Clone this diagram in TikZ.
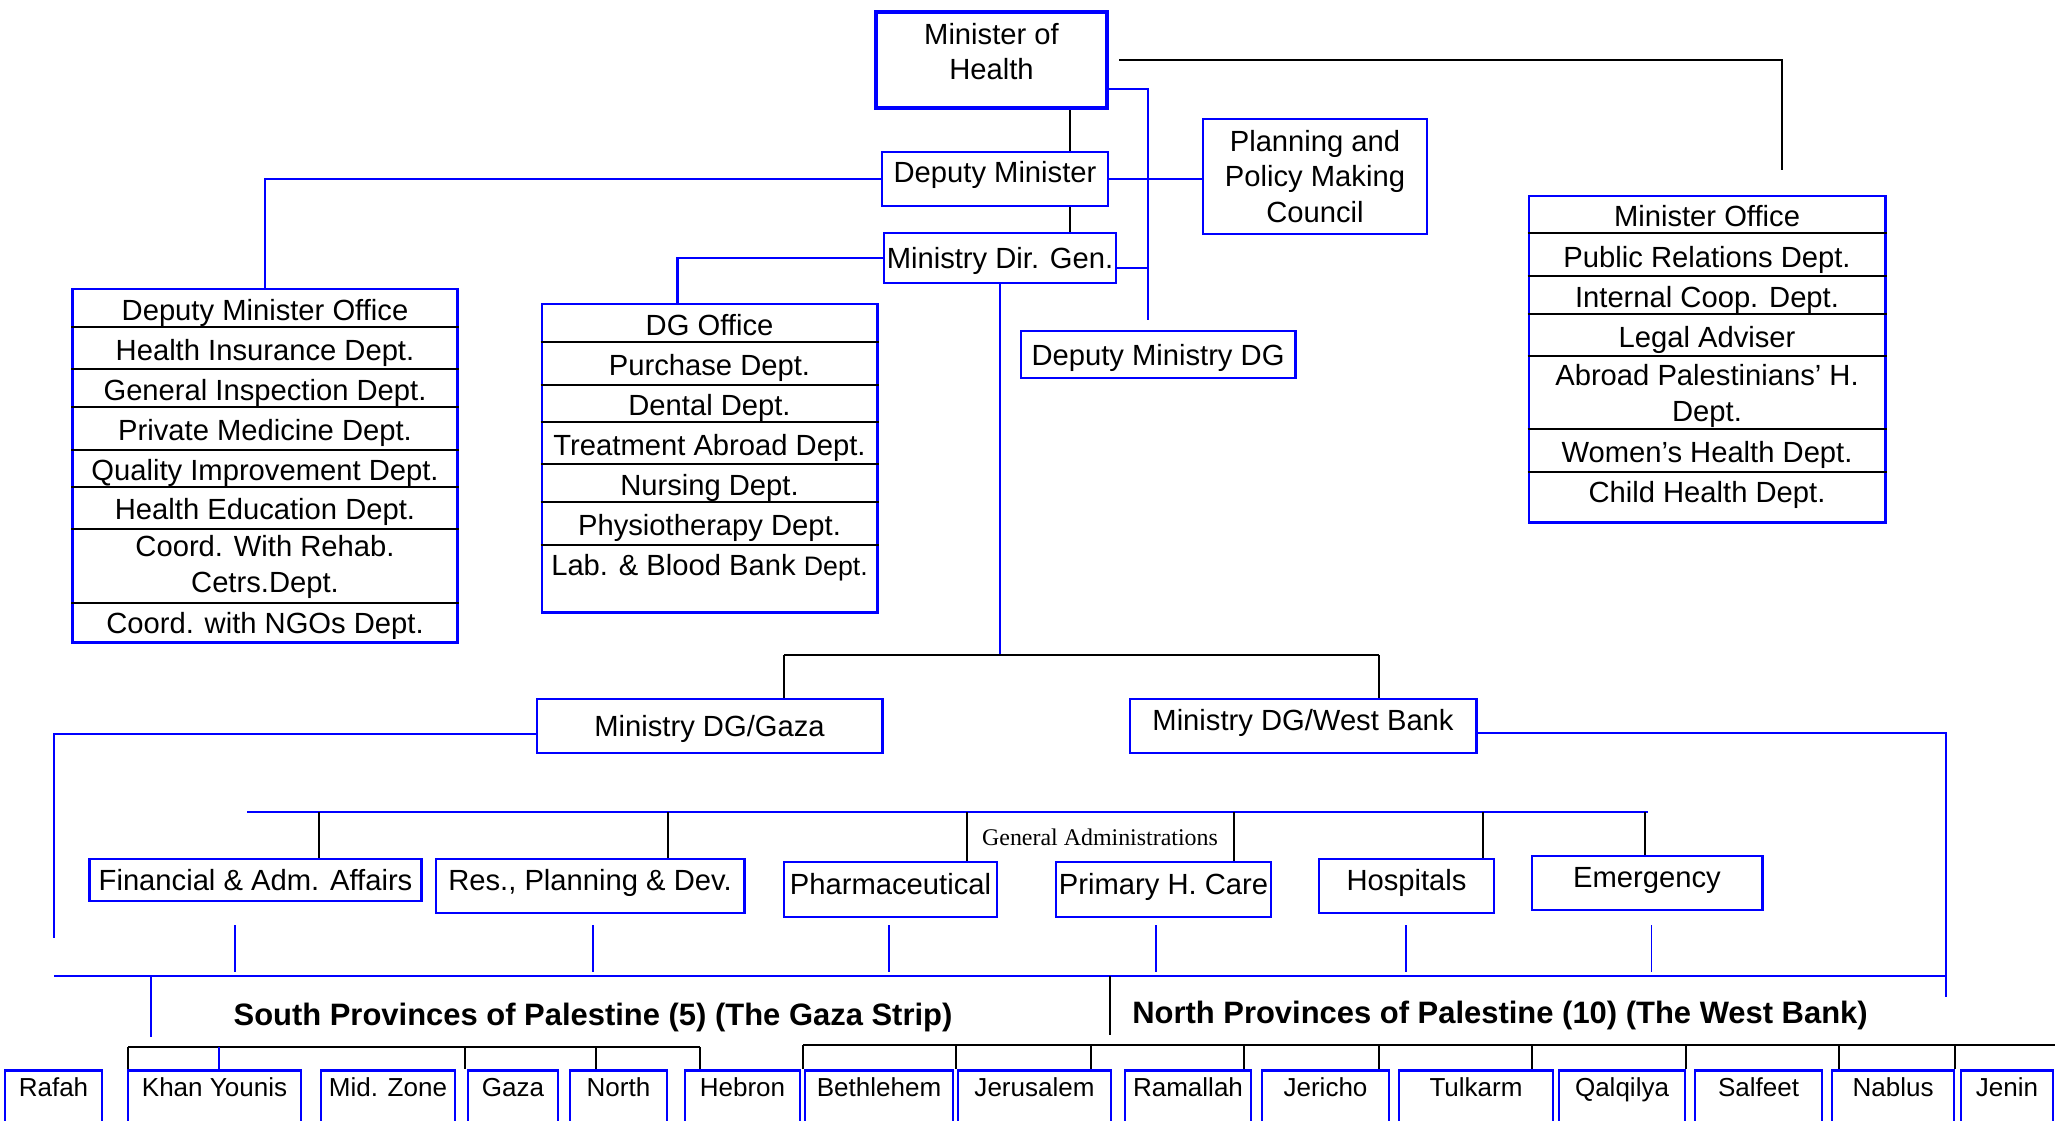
\documentclass[tikz,border=0pt]{standalone}
\usepackage{fontspec}
\setmainfont{Liberation Sans}
\newfontfamily\admfont{Liberation Serif}
\usetikzlibrary{calc}

\begin{document}
\begin{tikzpicture}[x=0.01cm,y=-0.01cm,
        box/.style={draw=blue,line width=0.8pt,align=center,inner sep=0pt,font=\fontsize{8.3}{10}\selectfont},
        one/.style={box,text height=6pt,text depth=0pt},
        up/.style={text depth=3.4pt},
        item/.style={inner sep=0pt,align=center,text height=6pt,text depth=0pt,font=\fontsize{8.3}{10}\selectfont},
        itemtwo/.style={inner sep=0pt,align=center,font=\fontsize{8.3}{10}\selectfont},
        prov/.style={draw=blue,line width=0.8pt,anchor=north,inner sep=0pt,text height=7.4pt,text depth=13.1pt,font=\fontsize{7.4}{9}\selectfont},
        title/.style={inner sep=0pt,font=\bfseries\fontsize{8.8}{10}\selectfont},
        link/.style={black,line width=0.6pt},
        blink/.style={blue,line width=0.6pt},
        tick/.style={blue,line width=0.3pt}]
    \useasboundingbox (0,0) rectangle (2055,1120);
    \clip (0,0) rectangle (2055,1120);

    \node[box,line width=1.3pt,text depth=5.1pt,minimum width=2.31cm,minimum height=0.96cm] (minister) at (991.5,60) {Minister of\\Health};
    \node[one,text depth=4pt,minimum width=2.26cm,minimum height=0.54cm] (depmin) at (995,179) {Deputy Minister};
    \node[box,minimum width=2.24cm,minimum height=1.15cm] (council) at (1315,176.5) {Planning and\\Policy Making\\Council};
    \node[one,minimum width=2.32cm,minimum height=0.50cm] (dirgen) at (1000,258) {Ministry Dir. Gen.};
    \node[one,minimum width=2.74cm,minimum height=0.47cm] (depdg) at (1158,354.5) {Deputy Ministry DG};

    \node[box,minimum width=3.84cm,minimum height=3.53cm] (dmo) at (265,465.5) {};
    \foreach \y in {327,369,407,450,487,529,603}
        \draw[link] (dmo.west |- 0,\y) -- (dmo.east |- 0,\y);
    \foreach \y/\txt [count=\idx] in {310/Deputy Minister Office,350/Health Insurance Dept.,390/General Inspection Dept.,430/Private Medicine Dept.,470/Quality Improvement Dept.,509/Health Education Dept.}
        \node[item] (dmo\idx) at (dmo.north |- 0,\y) {\txt};
    \node[itemtwo] (dmo7) at (dmo.north |- 0,567) {Coord. With Rehab.\\Cetrs.Dept.};
    \node[item] (dmo8) at (dmo.north |- 0,623) {Coord. with NGOs Dept.};

    \node[box,minimum width=3.35cm,minimum height=3.08cm] (dgo) at (709.5,458) {};
    \foreach \y in {342,385,422,464,502,545}
        \draw[link] (dgo.west |- 0,\y) -- (dgo.east |- 0,\y);
    \foreach \y/\txt [count=\idx] in {325/DG Office,365/Purchase Dept.,405/Dental Dept.,445/Treatment Abroad Dept.,485/Nursing Dept.,525/Physiotherapy Dept.}
        \node[item] (dgo\idx) at (dgo.north |- 0,\y) {\txt};
    \node[item] (dgo7) at (dgo.north |- 0,565) {Lab. \& Blood Bank {\fontsize{7.6}{9}\selectfont Dept.}};

    \node[box,minimum width=3.56cm,minimum height=3.26cm] (mo) at (1707,359) {};
    \foreach \y in {233,276,314,356,429,472}
        \draw[link] (mo.west |- 0,\y) -- (mo.east |- 0,\y);
    \foreach \y/\txt [count=\idx] in {216/Minister Office,257/Public Relations Dept.,297/Internal Coop. Dept.,337/Legal Adviser}
        \node[item] (mo\idx) at (mo.north |- 0,\y) {\txt};
    \node[itemtwo] (mo5) at (mo.north |- 0,396) {Abroad Palestinians’ H.\\Dept.};
    \node[item] (mo6) at (mo.north |- 0,452) {Women’s Health Dept.};
    \node[item] (mo7) at (mo.north |- 0,492) {Child Health Dept.};

    \coordinate (spine) at (1070,0);
    \draw[link] (minister.south -| spine) -- (depmin.north -| spine);
    \draw[link] (depmin.south -| spine) -- (dirgen.north -| spine);
    \coordinate (rail) at (1148,320);
    \draw[blink] (minister.east |- 0,89) -- (rail |- 0,89) -- (rail);
    \draw[blink] (depmin.east) -- (depmin.east -| council.west);
    \draw[blink] (dirgen.east |- 0,268) -- (rail |- 0,268);
    \draw[blink] (depmin.west) -| (dmo.north);
    \draw[blink] (dirgen.west) -| ([xshift=-0.32cm]dgo.north);
    \coordinate (motop) at (1782,170);
    \draw[link] ([xshift=0.1cm]minister.east) -- (motop |- minister.east) -- (motop);

    \node[one,minimum width=3.45cm,minimum height=0.54cm] (gaza) at (709.5,726) {Ministry DG/Gaza};
    \node[one,up,minimum width=3.46cm,minimum height=0.54cm] (wb) at (1303,726) {Ministry DG/West Bank};
    \coordinate (gzj) at (784,655);
    \coordinate (wbj) at (1379,655);
    \draw[blink] (dirgen.south) -- (dirgen.south |- gzj);
    \draw[link] (gzj) -- (wbj);
    \draw[link] (gzj) -- (gzj |- gaza.north);
    \draw[link] (wbj) -- (wbj |- wb.north);

    \node[one,minimum width=3.31cm,minimum height=0.42cm] (fin) at (255.5,880) {Financial \& Adm. Affairs};
    \node[one,up,minimum width=3.08cm,minimum height=0.54cm] (res) at (590,886) {Res., Planning \& Dev.};
    \node[one,up,minimum width=2.13cm,minimum height=0.55cm] (pharm) at (890.5,889.5) {Pharmaceutical};
    \node[one,up,minimum width=2.15cm,minimum height=0.55cm] (phc) at (1163.5,889.5) {Primary H. Care};
    \node[one,up,minimum width=1.75cm,minimum height=0.54cm] (hosp) at (1406.5,886) {Hospitals};
    \node[one,up,minimum width=2.30cm,minimum height=0.54cm] (emerg) at (1647,883) {Emergency};
    \node[inner sep=0pt,font=\admfont\fontsize{6.8}{8}\selectfont] (genadm) at (1100,837) {General Administrations};
    \coordinate (gal) at (247,812);
    \coordinate (gar) at (1648,812);
    \draw[blink] (gal) -- (gar);
    \foreach \n/\x in {fin/319,res/668,pharm/967,phc/1234,hosp/1483,emerg/1645}
        \draw[link] (\x,812) -- (\n.north -| \x,0);
    \foreach \x in {235,593,889,1156,1406,1651}
        \draw[tick] (\x,925) -- (\x,972);

    \coordinate (gzrail) at (54,938);
    \coordinate (wbrail) at (1946,997);
    \coordinate (provl) at (54,976);
    \coordinate (provr) at (1946,976);
    \draw[blink] (gaza.west |- 0,734) -| (gzrail);
    \draw[blink] (wb.east |- 0,733) -| (wbrail);
    \draw[blink] (provl) -- (provr);
    \draw[blink] (provl -| 151,0) -- (151,1037);
    \draw[link] (provl -| 1110,0) -- (1110,1035);

    \node[title] (southtitle) at (593,1017) {South Provinces of Palestine (5) (The Gaza Strip)};
    \node[title] (northtitle) at (1500,1015) {North Provinces of Palestine (10) (The West Bank)};

    \foreach \n/\x/\w/\txt in {rafah/53.5/0.97cm/Rafah,khany/214.5/1.73cm/Khan Younis,midz/388/1.34cm/Mid. Zone,gazac/513/0.90cm/Gaza,northg/618.5/0.97cm/North,hebron/742.5/1.15cm/Hebron,bethl/879/1.48cm/Bethlehem,jerus/1034.5/1.53cm/Jerusalem,ramal/1188/1.26cm/Ramallah,jeric/1325.5/1.27cm/Jericho,tulk/1476/1.54cm/Tulkarm,qalq/1622/1.26cm/Qalqilya,salf/1758.5/1.27cm/Salfeet,nabl/1893/1.22cm/Nablus,jenin/2007/0.92cm/Jenin}
        \node[prov,minimum width=\w] (\n) at (\x,1069) {\txt};

    \draw[link] (128,1047) -- (700,1047);
    \foreach \n/\x in {khany/128,gazac/465,northg/596,hebron/700}
        \draw[link] (\x,1047) -- (\n.north -| \x,0);
    \draw[blink] (219,1047) -- (khany.north -| 219,0);
    \draw[link] (803,1045) -- (2055,1045);
    \foreach \n/\x in {bethl/803,jerus/956,jerus/1091,ramal/1244,jeric/1379,tulk/1532,qalq/1686,salf/1839,nabl/1955}
        \draw[link] (\x,1045) -- (\n.north -| \x,0);
\end{tikzpicture}
\end{document}
